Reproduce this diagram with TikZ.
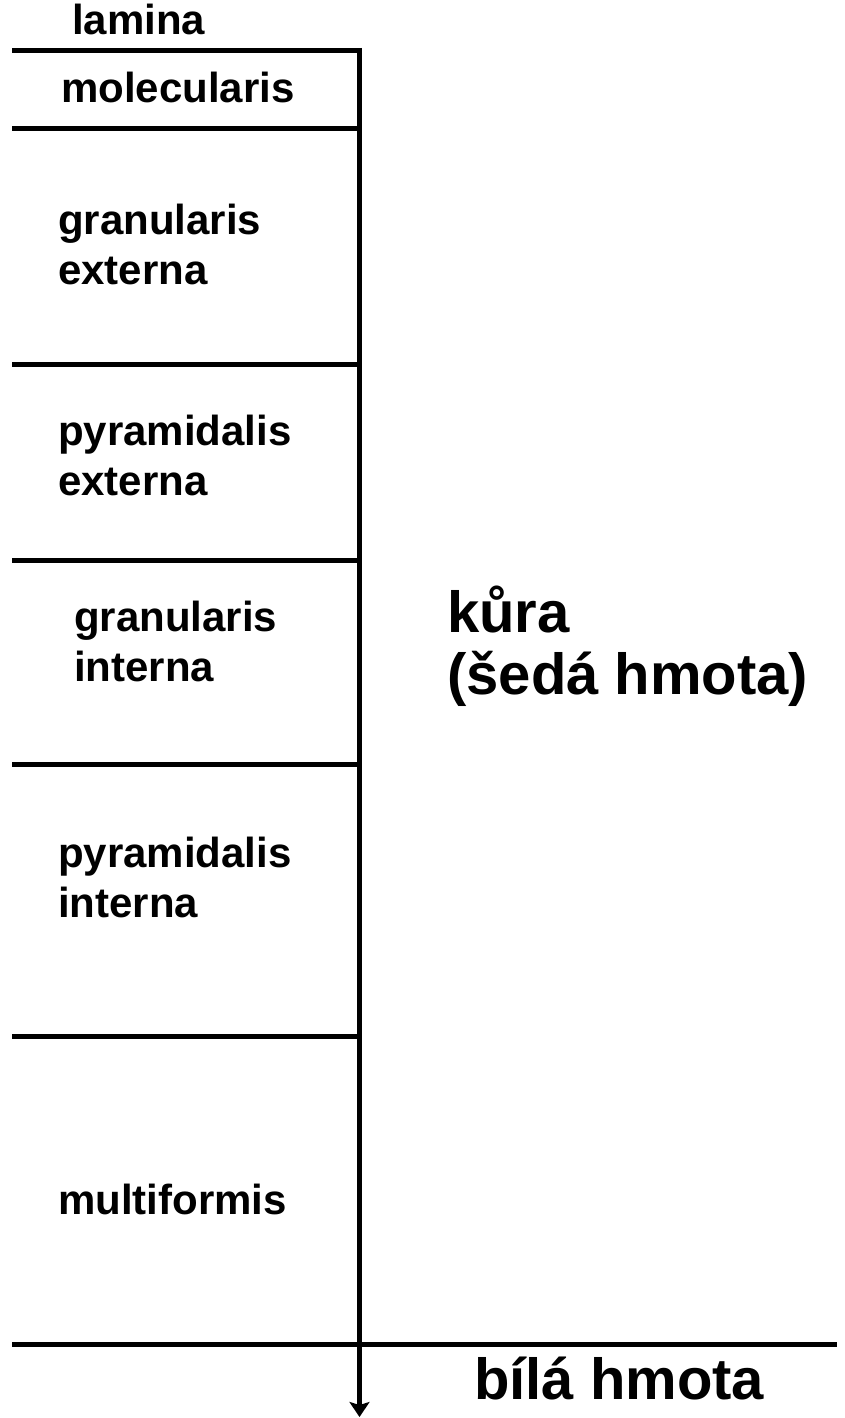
\documentclass[tikz,border=0pt]{standalone}
\usepackage{fontspec}
\setmainfont{Liberation Sans}
\usetikzlibrary{arrows.meta}
\begin{document}
\begin{tikzpicture}[x=1pt,y=-1pt,
  layer/.style={line width=5pt},
  axis/.style={line width=5.5pt,-{Stealth[length=15pt,width=20pt,inset=3pt]}},
  lab/.style={font=\fontsize{42}{50}\selectfont\bfseries, inner sep=0pt, anchor=base west, align=left},
  big/.style={font=\fontsize{58}{62}\selectfont\bfseries, inner sep=0pt, anchor=base west, align=left}]
\useasboundingbox (0,0) rectangle (845,1418);
% vertical axis
\coordinate (top) at (359.5,48);
\coordinate (bot) at (359.5,1417);
\draw[axis] (top) -- (bot);
% layer boundaries
\foreach \n/\y in {a/50.5,b/129,c/364,d/560,e/764,f/1036}{
  \coordinate (\n L) at (12,\y);
  \coordinate (\n R) at (362,\y);
  \draw[layer] (\n L) -- (\n R);
}
\coordinate (gL) at (12,1344.5);
\coordinate (gR) at (837,1344.5);
\draw[layer] (gL) -- (gR);
% labels (base anchor of a two-line node is the last line's baseline)
\node[lab] (lam) at (72,35) {lamina};
\node[lab] (mol) at (61,103) {molecularis};
\node[lab] (ge) at (58,284) {granularis\\externa};
\node[lab] (pe) at (58,495) {pyramidalis\\externa};
\node[lab] (gi) at (74,681) {granularis\\interna};
\node[lab] (pi) at (58,917) {pyramidalis\\interna};
\node[lab] (mf) at (58,1214) {multiformis};
\node[big] (kura) at (447,694) {kůra\\(šedá hmota)};
\node[big] (bila) at (474,1399) {bílá hmota};
\end{tikzpicture}
\end{document}
